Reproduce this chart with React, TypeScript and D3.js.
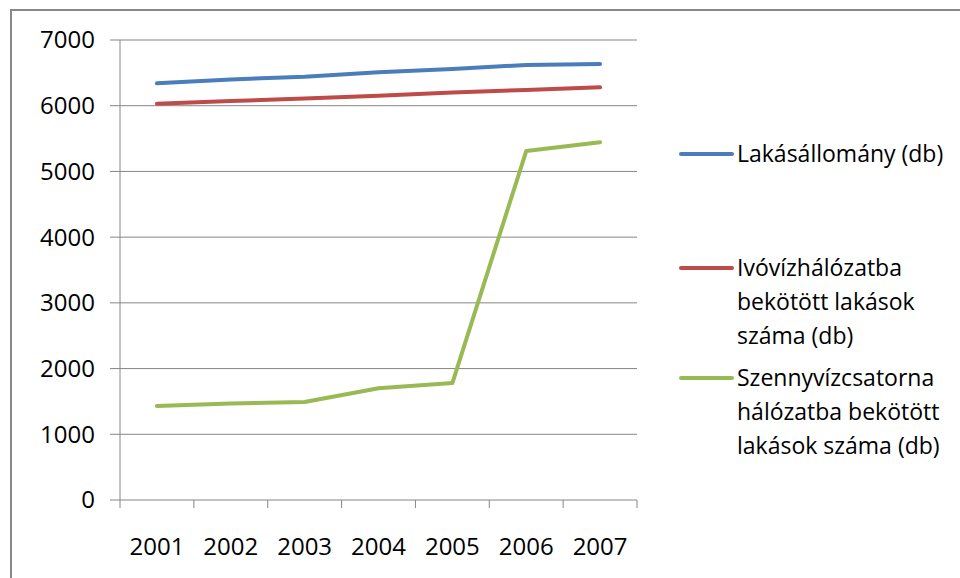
import React from 'react'
import * as d3 from 'd3'

const years = ['2001', '2002', '2003', '2004', '2005', '2006', '2007']
const lakasallomany = [6340, 6400, 6440, 6510, 6560, 6620, 6635]
const ivoviz = [6030, 6070, 6110, 6150, 6200, 6240, 6280]
const szennyviz = [1430, 1470, 1490, 1700, 1780, 5310, 5445]
const yTicks = [0, 1000, 2000, 3000, 4000, 5000, 6000, 7000]

const series = [
  { name: ['Lakásállomány (db)'], values: lakasallomany, color: '#4a7ebb' },
  { name: ['Ivóvízhálózatba', 'bekötött lakások', 'száma (db)'], values: ivoviz, color: '#be4b48' },
  { name: ['Szennyvízcsatorna', 'hálózatba bekötött', 'lakások száma (db)'], values: szennyviz, color: '#98b954' },
]

const width = 960
const height = 578
const margin = { top: 40, right: 323, bottom: 78, left: 120 }
const font = "'Open Sans', 'Noto Sans', sans-serif"

const x = d3.scaleBand<string>()
  .domain(years)
  .range([margin.left, width - margin.right])

const y = d3.scaleLinear()
  .domain([0, 7000])
  .range([height - margin.bottom, margin.top])

const line = d3.line<number>()
  .x((_, i) => x(years[i])! + x.bandwidth() / 2)
  .y(d => y(d))

const legendY = [154, 268, 378]

export default function App() {
  const x0 = margin.left
  const x1 = width - margin.right
  const yBase = y(0)
  const bounds = [...years.map(d => x(d)!), x1]
  return (
    <svg width={width} height={height} style={{ position: 'absolute', left: 0, top: 0, background: '#fff' }}>
      <rect x={11} y={10} width={width} height={height} fill="#fff" stroke="#888" strokeWidth={2} />
      {yTicks.map(t => (
        <g key={t}>
          <line x1={x0 - 10} x2={x1} y1={y(t)} y2={y(t)} stroke="#868686" strokeWidth={1} />
          <text x={x0 - 25} y={y(t)} dy="0.35em" textAnchor="end" fontFamily={font} fontSize={24} fill="#000">{t}</text>
        </g>
      ))}
      <line x1={x0} x2={x0} y1={margin.top} y2={yBase} stroke="#868686" strokeWidth={1} />
      {bounds.map((b, i) => (
        <line key={i} x1={b} x2={b} y1={yBase} y2={yBase + 8} stroke="#868686" strokeWidth={1} />
      ))}
      {years.map(yr => (
        <text key={yr} x={x(yr)! + x.bandwidth() / 2} y={547} dy="0.35em" textAnchor="middle" fontFamily={font} fontSize={24} fill="#000">{yr}</text>
      ))}
      {series.map(s => (
        <path key={s.color} d={line(s.values)!} fill="none" stroke={s.color} strokeWidth={4} strokeLinecap="round" strokeLinejoin="round" />
      ))}
      {series.map((s, i) => (
        <g key={s.color}>
          <line x1={681} x2={732} y1={legendY[i]} y2={legendY[i]} stroke={s.color} strokeWidth={4} strokeLinecap="round" />
          {s.name.map((n, j) => (
            <text key={j} x={737} y={legendY[i] + j * 34} dy="0.35em" fontFamily={font} fontSize={23} fill="#000">{n}</text>
          ))}
        </g>
      ))}
    </svg>
  )
}
